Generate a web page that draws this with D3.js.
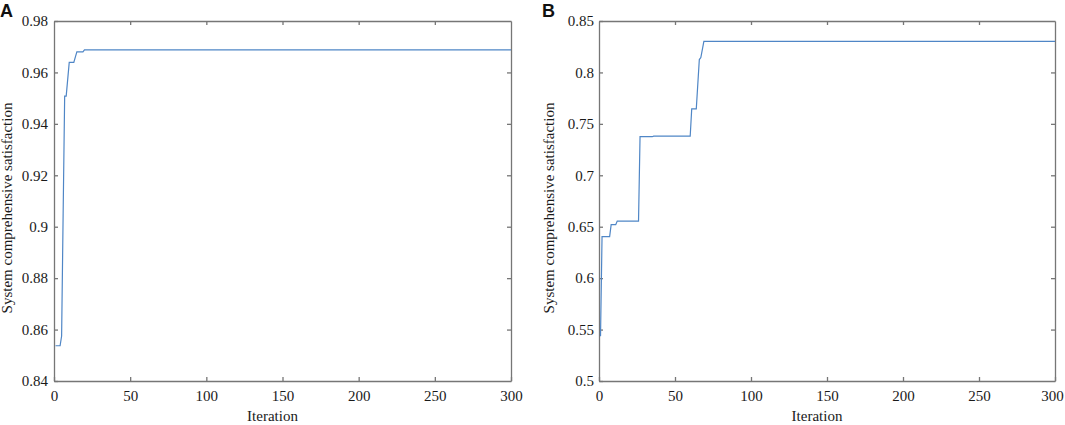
<!DOCTYPE html>
<html>
<head>
<meta charset="utf-8">
<script src="https://cdn.jsdelivr.net/npm/d3@7"></script>
<style>
  body { margin: 0; background: #fff; }
  svg text { font-family: "Liberation Serif", "Times New Roman", serif; fill: #1a1a1a; }
  .axis path, .axis line { stroke: #767676; stroke-width: 1.3px; }
  .panel-label { font-family: "Liberation Sans", Arial, sans-serif !important; font-weight: bold; font-size: 18px; fill: #111; }
</style>
</head>
<body>
<svg id="chart" width="1065" height="425"></svg>
<script>
// shared x ticks
const iterTicks = [0, 50, 100, 150, 200, 250, 300];

// panel A: convergence of system comprehensive satisfaction
const iterA = [1, 4, 5, 6, 7, 8, 10, 13, 15, 19, 20, 300];
const satA = [0.8537, 0.8537, 0.8575, 0.905, 0.9508, 0.9508, 0.9639, 0.9639, 0.968, 0.968, 0.9688, 0.9688];
const satTicksA = [0.84, 0.86, 0.88, 0.9, 0.92, 0.94, 0.96, 0.98];

// panel B
const iterB = [1, 2, 7, 8, 11, 12, 26, 27, 35, 36, 60, 61, 64, 66, 67, 69, 300];
const satB = [0.5435, 0.6403, 0.6403, 0.652, 0.652, 0.6555, 0.6555, 0.7375, 0.7375, 0.738, 0.738, 0.7645, 0.7645, 0.8125, 0.8145, 0.8302, 0.8302];
const satTicksB = [0.5, 0.55, 0.6, 0.65, 0.7, 0.75, 0.8, 0.85];

const svg = d3.select("#chart");

function drawPanel(cfg) {
  const x = d3.scaleLinear().domain([0, 300]).range([cfg.left, cfg.right]);
  const y = d3.scaleLinear().domain(cfg.yDomain).range([cfg.bottom, cfg.top]);
  const fmt = d => String(+d.toFixed(2));

  const g = svg.append("g");

  // bottom + left axes with labels, ticks pointing inward
  const xLabels = g.append("g")
    .attr("class", "axis")
    .attr("transform", `translate(0,${cfg.bottom})`)
    .call(d3.axisBottom(x).tickValues(iterTicks).tickSizeInner(-4).tickSizeOuter(0).tickPadding(9))
    .selectAll("text").style("font-size", "15px");

  // keep the last label inside the page on the right-hand panel
  if (cfg.nudgeLast) xLabels.filter(d => d === 300).attr("dx", cfg.nudgeLast);

  g.append("g")
    .attr("class", "axis")
    .attr("transform", `translate(${cfg.left},0)`)
    .call(d3.axisLeft(y).tickValues(cfg.yTicks).tickFormat(fmt).tickSizeInner(-4).tickSizeOuter(0).tickPadding(cfg.yPad))
    .selectAll("text").style("font-size", "15px");

  // mirrored top + right axes (ticks only) to close the box
  g.append("g")
    .attr("class", "axis")
    .attr("transform", `translate(0,${cfg.top})`)
    .call(d3.axisTop(x).tickValues(iterTicks.slice(1, -1)).tickSizeInner(-4).tickSizeOuter(0).tickFormat(""));

  g.append("g")
    .attr("class", "axis")
    .attr("transform", `translate(${cfg.right},0)`)
    .call(d3.axisRight(y).tickValues(cfg.yTicks.slice(1, -1)).tickSizeInner(-4).tickSizeOuter(0).tickFormat(""));

  g.selectAll(".axis .domain").attr("fill", "none");

  // the curve
  const pts = d3.zip(cfg.iters, cfg.sats);
  g.append("path")
    .datum(pts)
    .attr("fill", "none")
    .attr("stroke", "#4f86c6")
    .attr("stroke-width", 1.2)
    .attr("d", d3.line().x(d => x(d[0])).y(d => y(d[1])));

  // titles
  g.append("text")
    .attr("x", (cfg.left + cfg.right) / 2 - 10)
    .attr("y", 421)
    .attr("text-anchor", "middle")
    .style("font-size", "15px")
    .text("Iteration");

  g.append("text")
    .attr("transform", `translate(${cfg.yTitleX},208) rotate(-90)`)
    .attr("text-anchor", "middle")
    .style("font-size", "15px")
    .text("System comprehensive satisfaction");

  g.append("text")
    .attr("class", "panel-label")
    .attr("x", cfg.labelX)
    .attr("y", 17)
    .text(cfg.label);
}

drawPanel({
  label: "A", labelX: 0,
  left: 54, right: 511, top: 21, bottom: 381,
  yDomain: [0.84, 0.98], yTicks: satTicksA, yPad: 6, yTitleX: 12,
  iters: iterA, sats: satA
});

drawPanel({
  label: "B", labelX: 542,
  left: 599, right: 1055, top: 21, bottom: 381,
  yDomain: [0.5, 0.85], yTicks: satTicksB, yPad: 5, yTitleX: 554,
  iters: iterB, sats: satB, nudgeLast: -3
});
</script>
</body>
</html>
